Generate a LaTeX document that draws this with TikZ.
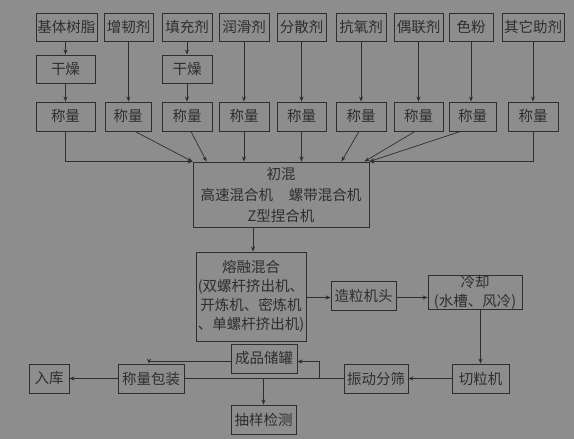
\documentclass[tikz,border=0pt]{standalone}
\usepackage{fontspec}
\setmainfont{Noto Sans CJK SC}
\usetikzlibrary{arrows.meta}
\definecolor{bg}{HTML}{8D8D8D}
\definecolor{ink}{HTML}{2E2E2E}
\begin{document}
\begin{tikzpicture}[x=1pt,y=-1pt,
  box/.style={draw=ink, line width=0.9pt, fill=bg, text=ink, inner sep=0pt,
    minimum height=28pt, font=\fontsize{14.5}{19}\selectfont, align=center},
  arr/.style={draw=ink, line width=0.7pt, -{Stealth[length=5pt,width=4pt]}},
  ln/.style={draw=ink, line width=0.7pt}]
\fill[bg] (0,0) rectangle (574,439);
\useasboundingbox (0,0) rectangle (574,439);
% top row
\node[box, minimum width=61pt] (A1) at (66.5,27) {基体树脂};
\node[box, minimum width=49pt] (A2) at (128.5,27) {增韧剂};
\node[box, minimum width=50pt] (A3) at (187,27) {填充剂};
\node[box, minimum width=50pt] (A4) at (244,27) {润滑剂};
\node[box, minimum width=49pt] (A5) at (301.5,27) {分散剂};
\node[box, minimum width=50pt] (A6) at (361,27) {抗氧剂};
\node[box, minimum width=49pt] (A7) at (418.5,27) {偶联剂};
\node[box, minimum width=44pt] (A8) at (471,27) {色粉};
\node[box, minimum width=62pt] (A9) at (533,27) {其它助剂};
% dry
\node[box, minimum width=59pt] (D1) at (65.5,69) {干燥};
\node[box, minimum width=50pt] (D3) at (187,69) {干燥};
% weigh
\node[box, minimum width=59pt, minimum height=29pt] (W1) at (65.5,116.5) {称量};
\node[box, minimum width=46pt, minimum height=29pt] (W2) at (128,116.5) {称量};
\node[box, minimum width=50pt, minimum height=29pt] (W3) at (187,116.5) {称量};
\node[box, minimum width=50pt, minimum height=29pt] (W4) at (244,116.5) {称量};
\node[box, minimum width=49pt, minimum height=29pt] (W5) at (301.5,116.5) {称量};
\node[box, minimum width=50pt, minimum height=29pt] (W6) at (361,116.5) {称量};
\node[box, minimum width=49pt, minimum height=29pt] (W7) at (418.5,116.5) {称量};
\node[box, minimum width=47pt, minimum height=29pt] (W8) at (472.5,116.5) {称量};
\node[box, minimum width=50pt, minimum height=29pt] (W9) at (533,116.5) {称量};
% mixing
\node[box, minimum width=176pt, minimum height=65pt] (M) at (281,194.5)
  {初混\\[2pt]高速混合机\hspace{1.1em}螺带混合机\\[2pt]Z型捏合机};
\node[box, minimum width=110pt, minimum height=89pt] (F) at (251,296.5)
  {熔融混合\\(双螺杆挤出机、\\开炼机、密炼机\\、单螺杆挤出机)};
\node[box, minimum width=65pt, minimum height=29pt] (G) at (363.5,295.5) {造粒机头};
\node[box, minimum width=94pt, minimum height=34pt] (C) at (475,292)
  {\fontsize{14.5}{18}\selectfont 冷却\\(水槽、风冷)};
\node[box, minimum width=57pt, minimum height=29pt] (K) at (480.5,378.5) {切粒机};
\node[box, minimum width=64pt, minimum height=29pt] (S) at (376,378.5) {振动分筛};
\node[box, minimum width=66pt, minimum height=29pt] (T) at (264,358.5) {成品储罐};
\node[box, minimum width=66pt, minimum height=29pt] (P) at (151,378.5) {称量包装};
\node[box, minimum width=65pt, minimum height=29pt] (Q) at (263.5,419.5) {抽样检测};
\node[box, minimum width=40pt, minimum height=29pt] (R) at (49,378.5) {入库};
% top arrows
\draw[arr] (D1.north |- A1.south) -- (D1.north);
\draw[arr] (D1.south) -- (W1.north);
\draw[arr] (A2.south) -- (A2.south |- W2.north);
\draw[arr] (A3.south) -- (D3.north);
\draw[arr] (D3.south) -- (W3.north);
\draw[arr] (A4.south) -- (W4.north);
\draw[arr] (A5.south) -- (W5.north);
\draw[arr] (A6.south) -- (W6.north);
\draw[arr] (A7.south) -- (W7.north);
\draw[arr] (A8.south) -- (A8.south |- W8.north);
\draw[arr] (A9.south) -- (W9.north);
% into mixer
\draw[arr] (W1.south) |- (M.north west);
\draw[arr] ([xshift=7pt]W2.south) -- (M.north west);
\draw[arr] ([xshift=4pt]W3.south) -- ([xshift=14pt]M.north west);
\draw[arr] (W4.south) -- (W4.south |- M.north);
\draw[arr] (W5.south) -- (W5.south |- M.north);
\draw[arr] ([xshift=-2pt]W6.south) -- ([xshift=-28pt]M.north east);
\draw[arr] ([xshift=-3.5pt]W7.south) -- ([xshift=-5pt]M.north east);
\draw[arr] ([xshift=-12pt]W8.south) -- (M.north east);
\draw[arr] (W9.south) |- (M.north east);
% process
\draw[arr] ([xshift=2pt]F.north |- M.south) -- ([xshift=2pt]F.north);
\draw[arr] ([yshift=-2pt]F.east |- G.west) -- ([yshift=-2pt]G.west);
\draw[arr] ([yshift=-2pt]G.east) -- ([yshift=-2pt]G.east -| C.west);
\draw[arr] (K.north |- C.south) -- (K.north);
\draw[arr] (K.west) -- (S.east);
\draw[ln] (S.west) -- (P.east);
\coordinate (J) at (319,378.5);
\draw[arr] (J) |- ([yshift=-3pt]T.east);
\draw[arr] (Q.north |- P.east) -- (Q.north);
\draw[arr] ([yshift=-3pt]T.west) -| ([xshift=-2pt]P.north);
\draw[arr] (P.west) -- (R.east);
\end{tikzpicture}
\end{document}
